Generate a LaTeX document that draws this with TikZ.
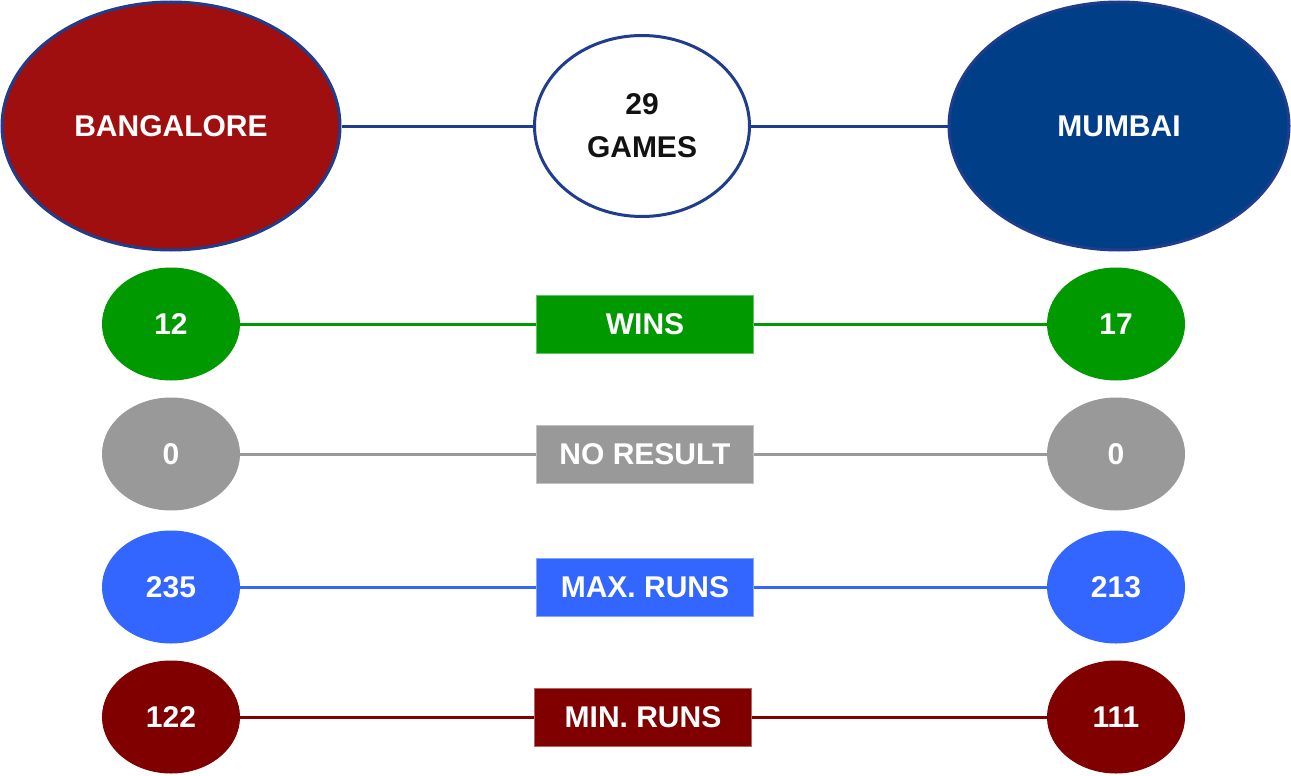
\documentclass[tikz,border=0pt]{standalone}
\usepackage{fontspec}
\setmainfont{Liberation Sans}
\usetikzlibrary{shapes.geometric}
\definecolor{bred}{HTML}{A00F0F}
\definecolor{mblue}{HTML}{003F87}
\definecolor{edgeblue}{HTML}{203C8C}
\definecolor{cgreen}{HTML}{009900}
\definecolor{cgray}{HTML}{999999}
\definecolor{clblue}{HTML}{3366FF}
\definecolor{cdred}{HTML}{800000}
\begin{document}
\begin{tikzpicture}[x=1pt,y=-1pt,
  lbl/.style={font=\fontsize{30}{43}\selectfont\bfseries},
  team/.style={ellipse,draw=edgeblue,line width=3pt,text=white,lbl,inner sep=0pt,minimum width=338pt,minimum height=248pt},
  stat/.style={ellipse,fill=#1,draw=#1,line width=1pt,text=white,lbl,inner sep=0pt,minimum width=137pt,minimum height=112pt},
  cat/.style={rectangle,fill=#1,draw=#1!60!white,line width=1pt,text=white,lbl,inner sep=0pt,minimum width=217pt,minimum height=58pt},
  link/.style={line width=3pt,draw=#1}]
\useasboundingbox (0,0) rectangle (1291,776);
\node[team,fill=bred] (bang) at (171,126) {BANGALORE};
\node[team,fill=mblue,minimum width=340pt] (mum) at (1119,126) {MUMBAI};
\node[ellipse,draw=edgeblue,fill=white,line width=3pt,lbl,text=black!93,inner sep=0pt,minimum width=215pt,minimum height=181pt,align=center] (games) at (642,126) {29\\GAMES};
\draw[link=edgeblue] (bang) -- (games);
\draw[link=edgeblue] (games) -- (mum);

\node[stat=cgreen] (w1) at (171,324) {12};
\node[cat=cgreen] (w) at (645,324) {WINS};
\node[stat=cgreen] (w2) at (1116,324) {17};
\draw[link=cgreen] (w1) -- (w);
\draw[link=cgreen] (w) -- (w2);

\node[stat=cgray] (n1) at (171,454) {0};
\node[cat=cgray] (n) at (645,454) {NO RESULT};
\node[stat=cgray] (n2) at (1116,454) {0};
\draw[link=cgray] (n1) -- (n);
\draw[link=cgray] (n) -- (n2);

\node[stat=clblue] (x1) at (171,587) {235};
\node[cat=clblue] (x) at (645,587) {MAX. RUNS};
\node[stat=clblue] (x2) at (1116,587) {213};
\draw[link=clblue] (x1) -- (x);
\draw[link=clblue] (x) -- (x2);

\node[stat=cdred] (m1) at (171,717) {122};
\node[cat=cdred] (m) at (643,717) {MIN. RUNS};
\node[stat=cdred] (m2) at (1116,717) {111};
\draw[link=cdred] (m1) -- (m);
\draw[link=cdred] (m) -- (m2);
\end{tikzpicture}
\end{document}
